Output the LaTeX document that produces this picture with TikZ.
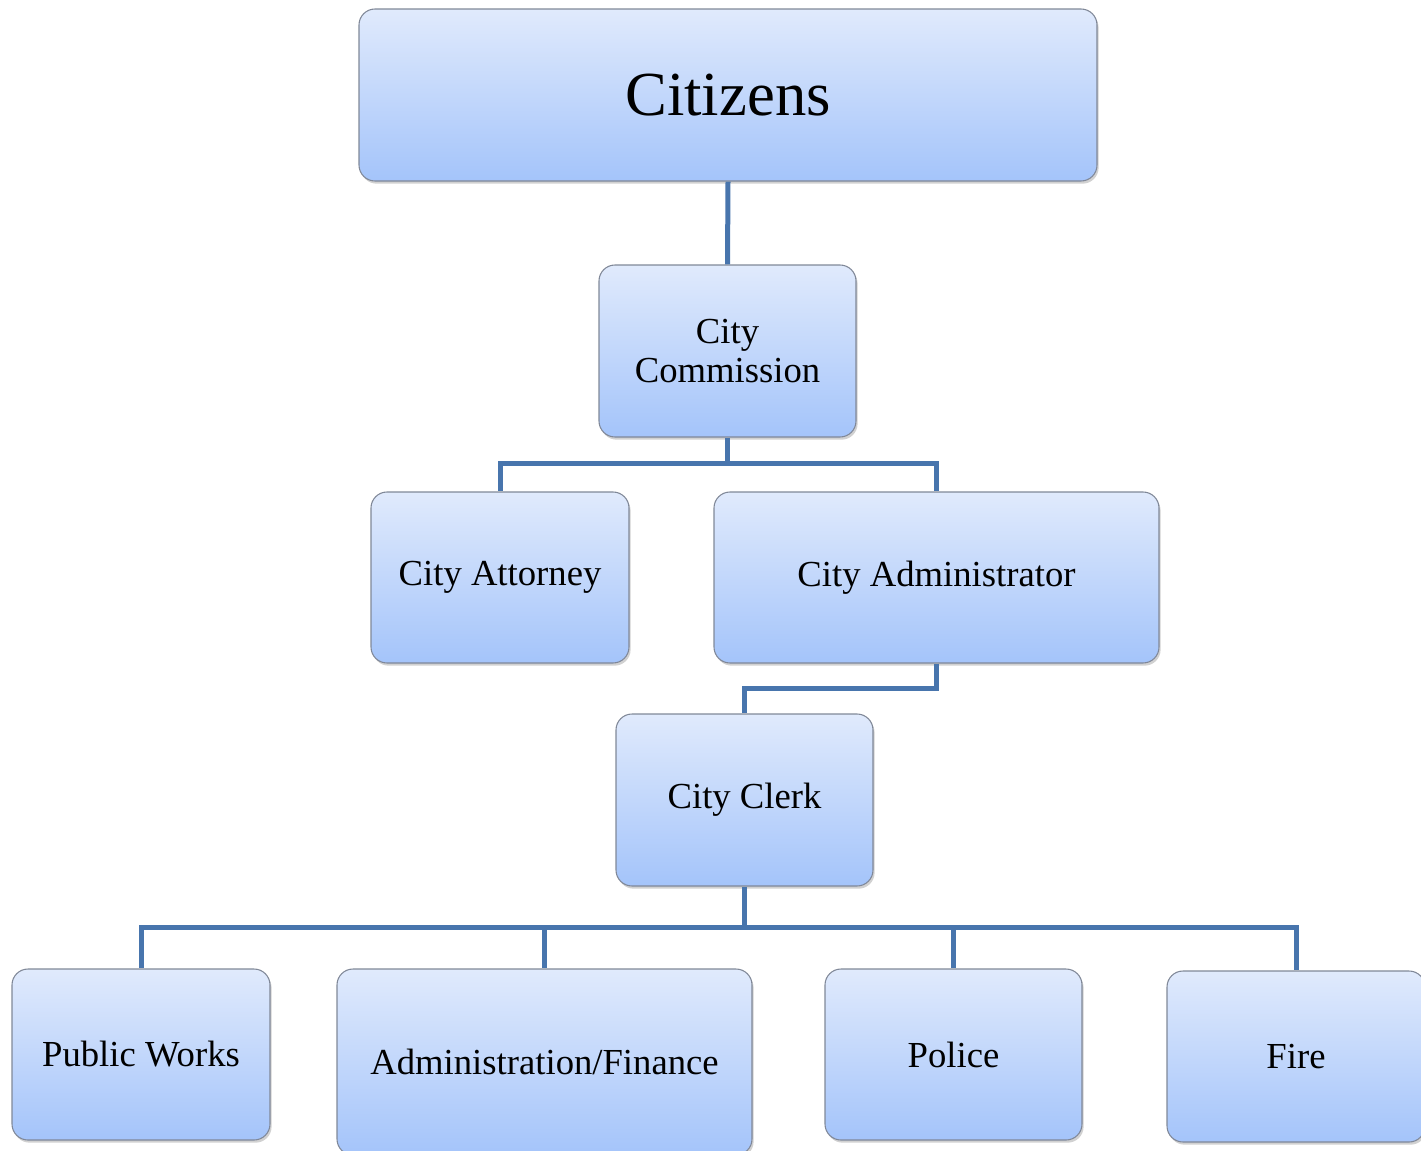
\documentclass[tikz,border=0pt]{standalone}
\usepackage{fontspec}
\setmainfont{Liberation Serif}
\usetikzlibrary{shadows}

\definecolor{boxtop}{RGB}{224,234,252}
\definecolor{boxbottom}{RGB}{164,196,250}
\definecolor{boxedge}{RGB}{128,136,152}
\definecolor{wireblue}{RGB}{72,117,173}

\tikzset{every picture/.style={line width=0.75pt}}
\tikzset{
  orgbox/.style={draw=boxedge, line width=0.8pt, rounded corners=12pt,
    top color=boxtop, bottom color=boxbottom, align=center, inner sep=0pt,
    font=\fontsize{27.5}{29}\selectfont,
    drop shadow={shadow xshift=1.2pt, shadow yshift=-2pt, opacity=0.3, fill=black!60}},
  wire/.style={draw=wireblue, line width=3.75pt}
}

\begin{document}
\begin{tikzpicture}[x=0.75pt,y=0.75pt,yscale=-1,xscale=1]
\useasboundingbox (0,0) rectangle (1421,1150);

% Boxes
\node [orgbox, minimum width=553.5pt, minimum height=129pt, font=\fontsize{47}{50}\selectfont] (cit) at (728,95) {Citizens};
\node [orgbox, minimum width=192.75pt, minimum height=129pt] (comm) at (727.5,351) {City\\Commission};
\node [orgbox, minimum width=193.5pt, minimum height=128.25pt] (att) at (500,577.5) {City Attorney};
\node [orgbox, minimum width=333.75pt, minimum height=128.25pt] (adm) at (936.5,577.5) {City Administrator};
\node [orgbox, minimum width=192.75pt, minimum height=129pt] (clerk) at (744.5,800) {City Clerk};
\node [orgbox, minimum width=193.5pt, minimum height=128.25pt] (pw) at (141,1054.5) {Public Works};
\node [orgbox, minimum width=311.25pt, minimum height=139.5pt] (fin) at (544.5,1062) {Administration/Finance};
\node [orgbox, minimum width=192.75pt, minimum height=128.25pt] (pol) at (953.5,1054.5) {Police};
\node [orgbox, minimum width=193.5pt, minimum height=128.25pt] (fire) at (1296,1056.5) {Fire};

% Connectors
\draw [wire] (cit.south) -- (comm.north);
\draw [wire] (comm.south) -- ++(0,26) coordinate (busa) -| (att.north);
\draw [wire] (busa) -| (adm.north);
\draw [wire] (adm.south) -- ++(0,25) -| (clerk.north);
\draw [wire] (clerk.south) -- ++(0,41) coordinate (busb) -| (pw.north);
\draw [wire] (busb) -| (fin.north);
\draw [wire] (busb) -| (pol.north);
\draw [wire] (busb) -| (fire.north);

\end{tikzpicture}
\end{document}
